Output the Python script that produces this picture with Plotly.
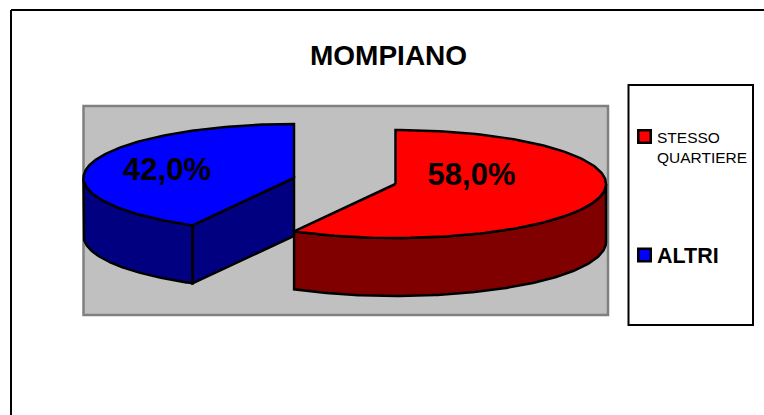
import numpy as np
import plotly.graph_objects as go

categories = ["STESSO QUARTIERE", "ALTRI"]
shares = [58.0, 42.0]
value_labels = ["58,0%", "42,0%"]
top_colors = ["#ff0000", "#0000ff"]
side_colors = ["#800000", "#000080"]

W, H = 764, 415
RX, RY, DEPTH = 210.5, 54, 58
centers = [(395.5, 184), (294, 178)]  # exploded slice apexes, in pixels

fractions = np.array(shares) / sum(shares)
starts = np.concatenate([[0], np.cumsum(fractions)[:-1]]) * 2 * np.pi
ends = np.cumsum(fractions) * 2 * np.pi


def arc(c, a, b, n=160, drop=0):
    t = np.linspace(a, b, n)
    return c[0] + RX * np.sin(t), c[1] - RY * np.cos(t) + drop


def poly(fig, x, y, color):
    fig.add_trace(go.Scatter(x=list(x), y=list(y), mode="lines", fill="toself",
                             fillcolor=color, line=dict(color="black", width=2.5),
                             hoverinfo="skip", showlegend=False))


fig = go.Figure()

# Blue slice: outer wall, inner cut wall, top
c, a, b = centers[1], starts[1], ends[1]
vis_b = 1.5 * np.pi  # left extreme of the ellipse
ax, ay = arc(c, a, vis_b)
bx, by = arc(c, vis_b, a, drop=DEPTH)
poly(fig, np.r_[ax, bx, ax[0]], np.r_[ay, by, ay[0]], side_colors[1])
ex, ey = c[0] + RX * np.sin(a), c[1] - RY * np.cos(a)
poly(fig, [ex, c[0], c[0], ex, ex], [ey, c[1], c[1] + DEPTH, ey + DEPTH, ey], side_colors[1])
tx, ty = arc(c, a, b)
poly(fig, np.r_[c[0], tx, c[0]], np.r_[c[1], ty, c[1]], top_colors[1])

# Red slice: outer wall, top
c, a, b = centers[0], starts[0], ends[0]
vis_a = 0.5 * np.pi  # right extreme of the ellipse
ax, ay = arc(c, vis_a, b)
bx, by = arc(c, b, vis_a, drop=DEPTH)
poly(fig, np.r_[ax, bx, ax[0]], np.r_[ay, by, ay[0]], side_colors[0])
tx, ty = arc(c, a, b)
poly(fig, np.r_[c[0], tx, c[0]], np.r_[c[1], ty, c[1]], top_colors[0])

# Value labels
fig.add_trace(go.Scatter(x=[471.5, 167], y=[177, 172], mode="text", text=value_labels,
                         textposition="middle center", hoverinfo="skip", showlegend=False,
                         textfont=dict(family="Liberation Sans", size=31, color="black",
                                       weight="bold")))

# Legend swatches
fig.add_trace(go.Scatter(x=[644.5, 644.5], y=[136.5, 255], mode="markers", hoverinfo="skip",
                         showlegend=False,
                         marker=dict(symbol="square", size=12.5, color=top_colors,
                                     line=dict(color="black", width=2.5))))

shapes = [
    dict(type="rect", x0=83.5, y0=106, x1=608, y1=315, fillcolor="#c0c0c0",
         line=dict(color="#808080", width=2.5), layer="below"),
    dict(type="rect", x0=628.5, y0=85, x1=753, y1=325, fillcolor="white",
         line=dict(color="black", width=2), layer="below"),
    dict(type="line", x0=11, y0=10, x1=764, y1=10, line=dict(color="black", width=2)),
    dict(type="line", x0=11, y0=10, x1=11, y1=415, line=dict(color="black", width=2)),
]

font = "Liberation Sans"
annotations = [
    dict(x=388.5, y=55, text="<b>MOMPIANO</b>", font=dict(family=font, size=28, color="black")),
    dict(x=655, y=147, text="STESSO<br>QUARTIERE", align="left", xanchor="left",
         font=dict(family=font, size=15.5, color="black")),
    dict(x=655, y=255.5, text="<b>ALTRI</b>", xanchor="left",
         font=dict(family=font, size=21.5, color="black")),
]
for a_ in annotations:
    a_.update(xref="x", yref="y", showarrow=False)

fig.update_layout(
    width=W, height=H, margin=dict(l=0, r=0, t=0, b=0),
    paper_bgcolor="white", plot_bgcolor="white",
    xaxis=dict(range=[0, W], visible=False, fixedrange=True),
    yaxis=dict(range=[H, 0], visible=False, fixedrange=True),
    shapes=shapes, annotations=annotations, showlegend=False,
)
fig.write_html("out.html", config=dict(displayModeBar=False),
               default_width=f"{W}px", default_height=f"{H}px",
               post_script="document.body.style.margin='0';document.body.style.overflow='hidden';")
